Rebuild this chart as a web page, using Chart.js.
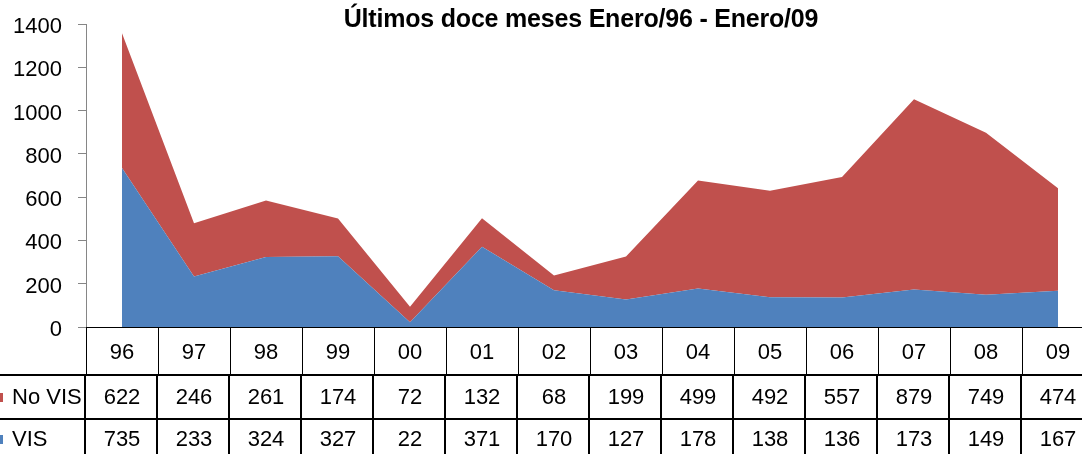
<!DOCTYPE html>
<html>
<head>
<meta charset="utf-8">
<script src="https://cdn.jsdelivr.net/npm/chart.js@4/dist/chart.umd.min.js"></script>
<style>
  html, body { margin: 0; padding: 0; background: #fff; overflow: hidden; }
  #wrap { width: 1094px; height: 454px; }
</style>
</head>
<body>
<div id="wrap"><canvas id="c" width="1094" height="454"></canvas></div>
<script>
const titleText = 'Últimos doce meses Enero/96 - Enero/09';
const categories = ['96', '97', '98', '99', '00', '01', '02', '03', '04', '05', '06', '07', '08', '09'];
const noVisValues = [622, 246, 261, 174, 72, 132, 68, 199, 499, 492, 557, 879, 749, 474];
const visValues = [735, 233, 324, 327, 22, 371, 170, 127, 178, 138, 136, 173, 149, 167];
const seriesNames = ['No VIS', 'VIS'];
const yMin = 0, yMax = 1400, yStep = 200;

const FONT = "'Liberation Sans', Arial, sans-serif";
const RED = '#C0504D';
const BLUE = '#4F81BD';

const tablePlugin = {
  id: 'tablePlugin',
  afterDraw(chart) {
    const ctx = chart.ctx;
    const x = chart.scales.x;
    const ca = chart.chartArea;
    const n = categories.length;
    const w = x.getPixelForValue(1) - x.getPixelForValue(0);
    const r0 = ca.bottom;          // top of category row
    const r1 = r0 + 48;            // top of No VIS row
    const r2 = r1 + 44;            // top of VIS row
    const r3 = r2 + 44;            // bottom
    ctx.save();
    ctx.strokeStyle = '#000';
    ctx.lineWidth = 1;
    for (let i = 0; i <= n; i++) {
      const bx = Math.round(x.getPixelForValue(0) - w / 2 + i * w) + 0.5;
      ctx.beginPath(); ctx.moveTo(bx, r0); ctx.lineTo(bx, r1); ctx.stroke();
    }
    ctx.lineWidth = 2;
    for (let i = 0; i <= n; i++) {
      const bx = Math.round(x.getPixelForValue(0) - w / 2 + i * w) - 1;
      ctx.beginPath(); ctx.moveTo(bx, r1); ctx.lineTo(bx, r3); ctx.stroke();
    }
    [r1, r2].forEach(yy => {
      ctx.beginPath(); ctx.moveTo(0, yy); ctx.lineTo(chart.width, yy); ctx.stroke();
    });
    ctx.fillStyle = '#000';
    ctx.font = '22px ' + FONT;
    ctx.textAlign = 'center';
    ctx.textBaseline = 'middle';
    const rows = [noVisValues, visValues];
    const rowMid = [r1 + 23, r2 + 21];
    rows.forEach((vals, ri) => {
      vals.forEach((v, i) => {
        ctx.fillText(String(v), x.getPixelForValue(i), rowMid[ri]);
      });
    });
    const keyColors = [RED, BLUE];
    ctx.textAlign = 'left';
    seriesNames.forEach((name, ri) => {
      ctx.fillStyle = keyColors[ri];
      ctx.fillRect(-5, rowMid[ri] - 5, 8, 9);
      ctx.fillStyle = '#000';
      ctx.fillText(name, 12, rowMid[ri]);
    });
    ctx.font = 'bold 25px ' + FONT;
    ctx.textAlign = 'center';
    ctx.textBaseline = 'alphabetic';
    try { ctx.letterSpacing = '-0.2px'; } catch (e) {}
    ctx.fillText(titleText, 581, 27);
    ctx.restore();
  }
};

new Chart(document.getElementById('c'), {
  type: 'line',
  data: {
    labels: categories,
    datasets: [
      {
        label: seriesNames[1],
        data: visValues,
        backgroundColor: BLUE,
        borderColor: BLUE,
        borderWidth: 0,
        pointRadius: 0,
        fill: 'origin',
        tension: 0
      },
      {
        label: seriesNames[0],
        data: noVisValues,
        backgroundColor: RED,
        borderColor: RED,
        borderWidth: 0,
        pointRadius: 0,
        fill: '-1',
        tension: 0
      }
    ]
  },
  options: {
    responsive: false,
    devicePixelRatio: 1,
    animation: false,
    layout: { padding: { top: 24, left: 0, right: 0, bottom: 0 } },
    plugins: {
      legend: { display: false },
      title: { display: false },
      tooltip: { enabled: false }
    },
    scales: {
      x: {
        type: 'category',
        offset: true,
        grid: { display: false, drawTicks: false },
        border: { display: true, color: '#000', width: 1 },
        ticks: {
          color: '#000',
          font: { family: FONT, size: 22 },
          padding: 13,
          maxRotation: 0,
          autoSkip: false
        },
        afterFit(scale) { scale.height = 127; scale.paddingLeft = 0; scale.paddingRight = 0; }
      },
      y: {
        stacked: true,
        min: yMin,
        max: yMax,
        grid: { drawOnChartArea: false, drawTicks: true, tickLength: 8, color: '#868686' },
        border: { display: true, color: '#868686', width: 1 },
        ticks: {
          stepSize: yStep,
          color: '#000',
          font: { family: FONT, size: 22 },
          padding: 16,
          labelOffset: 3,
          callback: (v) => String(v)
        },
        afterFit(scale) { scale.width = 86; scale.paddingTop = 0; scale.paddingBottom = 0; }
      }
    }
  },
  plugins: [tablePlugin]
});
</script>
</body>
</html>
